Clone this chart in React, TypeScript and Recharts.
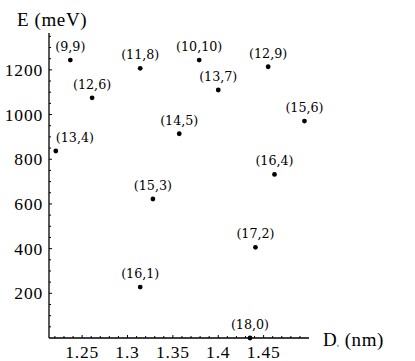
import React from 'react';
import { ScatterChart, Scatter, XAxis, YAxis } from 'recharts';

// nanotube chirality (n,m), diameter D (nm), energy E (meV)
const chiralities = ['(9,9)', '(12,6)', '(13,4)', '(11,8)', '(14,5)', '(10,10)', '(13,7)', '(12,9)', '(15,6)', '(16,4)', '(15,3)', '(16,1)', '(17,2)', '(18,0)'];
const diameters = [1.237, 1.261, 1.221, 1.314, 1.357, 1.379, 1.4, 1.455, 1.495, 1.462, 1.328, 1.314, 1.441, 1.435];
const energies = [1244, 1075, 837, 1207, 914, 1244, 1110, 1214, 971, 732, 622, 228, 406, 0];

const xTicks = [1.22, 1.23, 1.24, 1.25, 1.26, 1.27, 1.28, 1.29, 1.3, 1.31, 1.32, 1.33, 1.34, 1.35, 1.36, 1.37, 1.38, 1.39, 1.4, 1.41, 1.42, 1.43, 1.44, 1.45, 1.46, 1.47, 1.48, 1.49];
const xLabels = ['1.25', '1.3', '1.35', '1.4', '1.45'];
const yTicks = [50, 100, 150, 200, 250, 300, 350, 400, 450, 500, 550, 600, 650, 700, 750, 800, 850, 900, 950, 1000, 1050, 1100, 1150, 1200, 1250, 1300, 1350];
const yLabels = ['200', '400', '600', '800', '1000', '1200'];

const data = chiralities.map((c, i) => ({ name: c, d: diameters[i], e: energies[i] }));

const serif = '"Liberation Serif", "Times New Roman", serif';
const AXIS_LEFT = 49;

const XTick = (props: any) => {
  const { x, y, payload } = props;
  const label = Number(payload.value).toString();
  const major = xLabels.includes(label);
  return (
    <g>
      <line x1={x} y1={y} x2={x} y2={y - (major ? 3 : 2)} stroke="#000" strokeWidth={1} />
      {major && (
        <text x={x} y={y + 20} textAnchor="middle" fontFamily={serif} fontSize={17.5} letterSpacing={0.8} fill="#000">
          {label}
        </text>
      )}
    </g>
  );
};

const YTick = (props: any) => {
  const { x, y, payload } = props;
  const label = String(payload.value);
  const major = yLabels.includes(label);
  return (
    <g>
      <line x1={x} y1={y} x2={x + (major ? 3 : 2)} y2={y} stroke="#000" strokeWidth={1} />
      {major && (
        <text x={x - 6} y={y + 6} textAnchor="end" fontFamily={serif} fontSize={17.5} letterSpacing={0.8} fill="#000">
          {label}
        </text>
      )}
    </g>
  );
};

const Point = (props: any) => {
  const { cx, cy, payload } = props;
  const nearAxis = cx - 20 < AXIS_LEFT;
  return (
    <g>
      <circle cx={cx} cy={cy} r={2.4} fill="#000" />
      <text
        x={cx}
        y={cy - 9}
        textAnchor={nearAxis ? 'start' : 'middle'}
        fontFamily='"DejaVu Serif", serif'
        fontSize={12.7}
        fill="#000"
      >
        {payload.name}
      </text>
    </g>
  );
};

const App = () => {
  return (
    <div style={{ position: 'absolute', left: 0, top: 0, width: 415, height: 361, background: '#fff' }}>
      <ScatterChart width={415} height={361} margin={{ top: 33, right: 106, left: 0, bottom: 0 }}>
        <XAxis
          type="number"
          dataKey="d"
          domain={[1.2135, 1.5]}
          ticks={xTicks}
          interval={0}
          height={23}
          tickSize={0}
          tickMargin={0}
          tick={<XTick />}
          axisLine={{ stroke: '#000', strokeWidth: 1.3 }}
        />
        <YAxis
          type="number"
          dataKey="e"
          domain={[0, 1365]}
          ticks={yTicks}
          interval={0}
          width={49}
          tickSize={0}
          tickMargin={0}
          tick={<YTick />}
          axisLine={{ stroke: '#000', strokeWidth: 1.3 }}
        />
        <Scatter data={data} shape={<Point />} isAnimationActive={false} />
        <text x={17} y={26} fontFamily={serif} fontSize={19} letterSpacing={0.6} fill="#000">
          E (meV)
        </text>
        <text x={323} y={346} fontFamily={serif} fontSize={19} letterSpacing={0.6} fill="#000">
          D
          <tspan fontSize={5} dy={1}>t</tspan>
          <tspan dy={-1}> (nm)</tspan>
        </text>
      </ScatterChart>
    </div>
  );
};

export default App;
